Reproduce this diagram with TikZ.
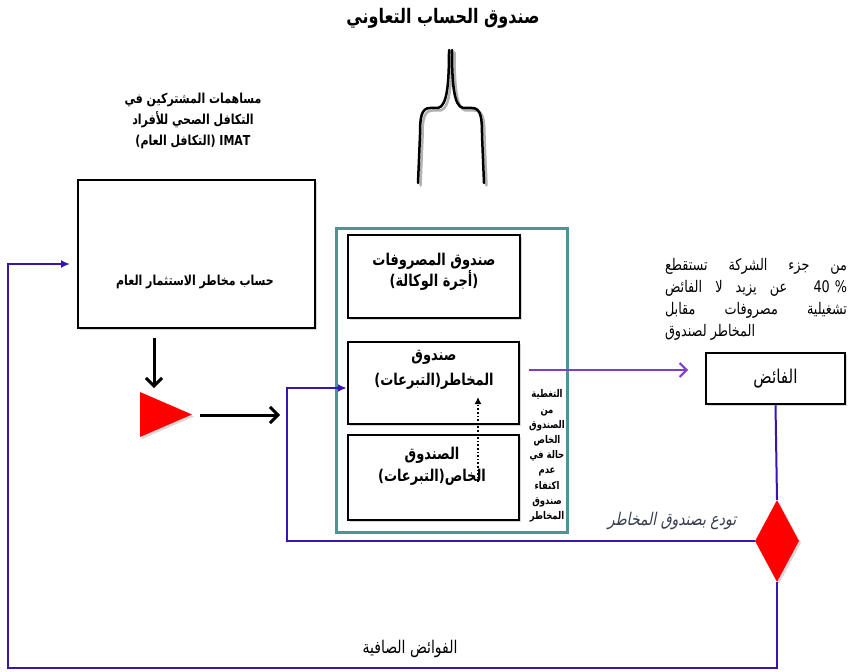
\documentclass[tikz,border=0pt]{standalone}
\usepackage{fontspec}
\usetikzlibrary{shapes.geometric,arrows.meta,shadows,calc}
\TeXXeTstate=1
\newfontfamily\arabicfont[Script=Arabic,FakeStretch=0.8]{DejaVu Sans}
\newfontfamily\arabicslant[Script=Arabic,FakeStretch=0.8,FakeSlant=0.2]{DejaVu Sans}
\newcommand\rtl[1]{\beginR #1\endR}
\definecolor{tealbox}{RGB}{74,150,150}
\definecolor{flowblue}{RGB}{55,20,180}
\definecolor{flowpurple}{RGB}{130,60,205}
\definecolor{slanttext}{RGB}{55,60,80}
\begin{document}
\begin{tikzpicture}[x=1pt,y=-1pt,
  box/.style={draw=black,line width=2.5pt,fill=white,inner sep=0pt,
    drop shadow={shadow xshift=2pt,shadow yshift=-2pt,opacity=0.3}},
  boldtxt/.style={font=\arabicfont\bfseries\fontsize{#1}{#1}\selectfont,align=center,inner sep=0pt},
  plaintxt/.style={font=\arabicfont\fontsize{#1}{#1}\selectfont,align=center,inner sep=0pt},
  blkarrow/.style={line width=3pt,-{Straight Barb[length=8pt,width=16pt]}},
  blueline/.style={draw=flowblue,line width=2pt},
  bluearrow/.style={blueline,-{Latex[length=9pt,width=8pt]}},
  purplearrow/.style={draw=flowpurple,line width=2pt,-{Straight Barb[length=7pt,width=14pt]}},
  dottedarrow/.style={dotted,line width=1.6pt,-{Latex[length=7pt,width=7pt]}}
]
\fill[white] (0,0) rectangle (850,671);
\useasboundingbox (0,0) rectangle (850,671);

% title and fork
\node[boldtxt=20] (title) at (443,18) {\rtl{صندوق الحساب التعاوني}};
\draw[gray!60,line width=2.5pt,line cap=round,xshift=2.5pt,yshift=-2.5pt]
  (449,50) .. controls (449,85) and (447,106) .. (438,108) -- (430,108)
  .. controls (421,108) and (420,118) .. (420,135) -- (418,183)
  (452,50) .. controls (452,85) and (454,106) .. (463,108) -- (472,108)
  .. controls (481,108) and (482,118) .. (482,135) -- (484,183);
\draw[black,line width=2.5pt,line cap=round]
  (449,50) .. controls (449,85) and (447,106) .. (438,108) -- (430,108)
  .. controls (421,108) and (420,118) .. (420,135) -- (418,183)
  (452,50) .. controls (452,85) and (454,106) .. (463,108) -- (472,108)
  .. controls (481,108) and (482,118) .. (482,135) -- (484,183);

% header of the left box
\node[font=\arabicfont\bfseries\fontsize{13.75}{21}\selectfont,align=center,inner sep=0pt] (hdr) at (193,121)
  {\rtl{مساهمات المشتركين في}\\ \rtl{التكافل الصحي للأفراد}\\ \rtl{\beginL IMAT\endL{} (التكافل العام)}};

% left box
\node[box,minimum width=237pt,minimum height=148pt] (acct) at (196.5,254) {};
\node[boldtxt=13.75] (accttxt) at (195,282) {\rtl{حساب مخاطر الاستثمار العام}};

% teal container and its boxes
\node[draw=tealbox,line width=3pt,minimum width=231pt,minimum height=304pt,inner sep=0pt] (fund) at (451.5,380) {};
\node[box,minimum width=172pt,minimum height=83pt] (exp) at (434,276.5) {};
\node[font=\arabicfont\bfseries\fontsize{16.25}{20}\selectfont,align=center,inner sep=0pt] (exptxt) at (434,272)
  {\rtl{صندوق المصروفات}\\ \rtl{(أجرة الوكالة)}};
\node[box,minimum width=171pt,minimum height=82pt] (risk) at (433.5,383) {};
\node[font=\arabicfont\bfseries\fontsize{16.25}{25}\selectfont,align=center,inner sep=0pt] (risktxt) at (434,370)
  {\rtl{صندوق}\\ \rtl{المخاطر(التبرعات)}};
\node[box,minimum width=171pt,minimum height=85pt] (special) at (433.5,477.5) {};
\node[font=\arabicfont\bfseries\fontsize{16.25}{22}\selectfont,align=center,inner sep=0pt] (specialtxt) at (432,466)
  {\rtl{الصندوق}\\ \rtl{الخاص(التبرعات)}};
\node[font=\arabicfont\bfseries\fontsize{10.6}{15.2}\selectfont,align=center,inner sep=0pt] (note) at (547,456)
  {التغطية\\ من\\ الصندوق\\ الخاص\\ في حالة\\ عدم\\ اكتفاء\\ صندوق\\ المخاطر};

% dotted arrow from special fund to risk fund
\coordinate (dotA) at (478,482);
\coordinate (dotB) at (478,397);
\draw[dottedarrow] (dotA) -- (dotB);

% right text block
\node[font=\arabicfont\fontsize{16}{22}\selectfont,align=left,inner sep=0pt] (deduct) at (756,299)
  {\hbox to 182pt{تستقطع\hfil الشركة\hfil جزء\hfil من}\\
   \hbox to 182pt{الفائض\hfil لا\hfil يزيد\hfil عن\hfil\hfil 40\hspace{5pt}\%}\\
   \hbox to 182pt{مقابل\hfil مصروفات\hfil تشغيلية}\\
   \hbox to 182pt{لصندوق المخاطر\hfil}};

% surplus box and diamond
\node[box,minimum width=139pt,minimum height=51pt,plaintxt=19] (faid) at (775.5,378.5) {\rtl{الفائض}};
\node[diamond,fill=red,minimum width=44pt,minimum height=82pt,inner sep=0pt,
  drop shadow={shadow xshift=2pt,shadow yshift=-2pt,opacity=0.3}] (dia) at (777,541) {};

% red triangle
\coordinate (tri) at (166,414);
\fill[red,drop shadow={shadow xshift=2pt,shadow yshift=-2pt,opacity=0.3}]
  ($(tri)+(-26,-22)$) -- ($(tri)+(26,0.5)$) -- ($(tri)+(-26,23)$) -- cycle;

% black arrows
\coordinate (downA) at (154,338);
\coordinate (downB) at (154,388);
\draw[blkarrow] (downA) -- (downB);
\coordinate (rightA) at (200,415);
\coordinate (rightB) at (280,415);
\draw[blkarrow] (rightA) -- (rightB);

% purple arrow from risk fund to surplus
\coordinate (purA) at (529,370);
\coordinate (purB) at (688,370);
\draw[purplearrow] (purA) -- (purB);

% blue connectors
\draw[blueline] (faid.south) -- (dia.north);
\draw[bluearrow] (dia.west) -- (287,541) -- (287,388) -- ([yshift=-5pt]risk.west);
\coordinate (loopend) at (70,264);
\draw[bluearrow] (dia.south) |- (8,668) -- (8,264) -- (loopend);

% labels on connectors
\node[font=\arabicslant\fontsize{17.5}{17.5}\selectfont,text=slanttext,inner sep=0pt] (deposit) at (672,521)
  {\rtl{تودع بصندوق المخاطر}};
\node[plaintxt=17.5] (net) at (410,649) {\rtl{الفوائض الصافية}};
\end{tikzpicture}
\end{document}
